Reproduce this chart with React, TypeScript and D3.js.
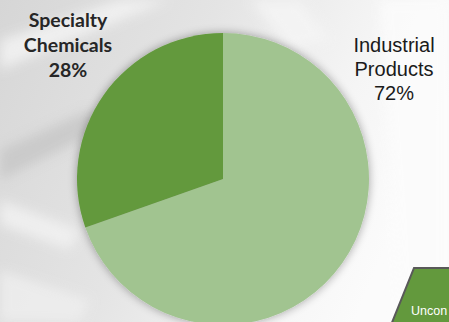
import React from "react";
import * as d3 from "d3";

const categories = ["Industrial Products", "Specialty Chemicals"];
const labelLines = [["Industrial", "Products", "72%"], ["Specialty", "Chemicals", "28%"]];
// slice sizes as drawn in the picture
const sliceValues = [69.6, 30.4];
const sliceColors = ["#a1c490", "#63993d"];
const cornerText = "Uncon";

const W = 449;
const H = 322;

export default function App() {
  const cx = 223;
  const cy = 179;
  const r = 146;
  const pie = d3.pie<number>().sort(null).value((d) => d)(sliceValues);
  const arc = d3.arc<d3.PieArcDatum<number>>().innerRadius(0).outerRadius(r);

  return (
    <svg width={W} height={H} style={{ position: "absolute", left: 0, top: 0 }}>
      <defs>
        <linearGradient id="bg" x1="0" y1="0" x2="1" y2="0.3">
          <stop offset="0" stopColor="#d6d6d6" />
          <stop offset="0.45" stopColor="#e4e4e4" />
          <stop offset="0.8" stopColor="#f5f5f5" />
          <stop offset="1" stopColor="#fbfbfb" />
        </linearGradient>
        <filter id="blur" x="-50%" y="-50%" width="200%" height="200%">
          <feGaussianBlur stdDeviation="6" />
        </filter>
        <filter id="shadow" x="-20%" y="-20%" width="140%" height="140%">
          <feGaussianBlur in="SourceAlpha" stdDeviation="5" />
          <feComponentTransfer>
            <feFuncA type="linear" slope="0.35" />
          </feComponentTransfer>
          <feMerge>
            <feMergeNode />
            <feMergeNode in="SourceGraphic" />
          </feMerge>
        </filter>
      </defs>
      <rect width={W} height={H} fill="url(#bg)" />
      <g filter="url(#blur)" opacity="0.8">
        <path d="M0,40 L120,0 L170,0 L0,70 Z" fill="#f4f4f4" />
        <path d="M0,150 L90,110 L100,130 L0,180 Z" fill="#c6c6c6" />
        <path d="M0,200 L80,230 L70,250 L0,225 Z" fill="#f3f3f3" />
        <path d="M250,0 L300,0 L330,40 L290,50 Z" fill="#f5f5f5" />
        <path d="M0,270 L90,300 L80,322 L0,322 Z" fill="#efefef" />
        <path d="M380,0 L449,0 L449,322 L400,322 Z" fill="#fcfcfc" />
      </g>
      <g transform={`translate(${cx},${cy})`} filter="url(#shadow)">
        {pie.map((p, i) => (
          <path key={categories[i]} d={arc(p) || ""} fill={sliceColors[i]} />
        ))}
      </g>
      <text
        textAnchor="middle"
        fontFamily="'Liberation Sans Narrow', 'Arial Narrow', 'Liberation Sans', sans-serif"
        fontSize={20}
        fill="#1a1a1a"
      >
        {labelLines[0].map((t, i) => (
          <tspan key={t} x={394} y={52 + i * 24}>
            {t}
          </tspan>
        ))}
      </text>
      <text
        textAnchor="middle"
        fontFamily="Lato, 'Open Sans', sans-serif"
        fontWeight="bold"
        fontSize={19.5}
        fill="#262626"
      >
        {labelLines[1].map((t, i) => (
          <tspan key={t} x={68} y={26.5 + i * 25.3}>
            {t}
          </tspan>
        ))}
      </text>
      <g>
        <path
          d="M414,268 L452,268 L452,330 L389,330 Z"
          fill="#63993d"
          stroke="#595959"
          strokeWidth={2}
        />
        <text x={411} y={315} fontFamily="'Liberation Sans', Arial, sans-serif" fontSize={12.5} fill="#ffffff">
          {cornerText}
        </text>
      </g>
    </svg>
  );
}
